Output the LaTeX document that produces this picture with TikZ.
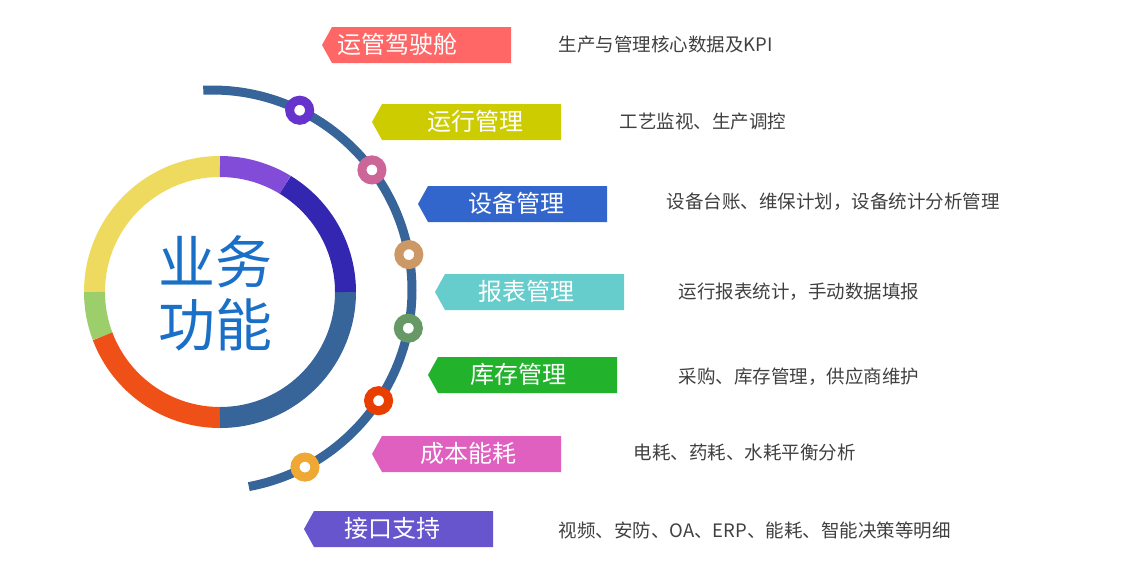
\documentclass[tikz,border=0pt]{standalone}
\usepackage{fontspec}
\setmainfont{Noto Sans CJK SC}
\definecolor{ringblue}{HTML}{376499}
\definecolor{ringyellow}{HTML}{EFDA60}
\definecolor{ringgreen}{HTML}{9CCE6C}
\definecolor{ringorange}{HTML}{EF5017}
\definecolor{ringindigo}{HTML}{3326B0}
\definecolor{ringpurple}{HTML}{834CD8}
\definecolor{titleblue}{HTML}{1A70C6}
\tikzset{
  tabtext/.style={text=white, font=\fontsize{24}{28}\selectfont},
  desc/.style={anchor=west, text=black!75, font=\fontsize{18.5}{22}\selectfont},
}
% tab: #1 left tip x, #2 top y, #3 colour, #4 text centre x, #5 name, #6 label
\newcommand*{\tabshape}[6]{
  \fill[#3] (#1, #2+18) -- (#1+10, #2) -- (#1+189, #2) -- (#1+189, #2+36)
    -- (#1+10, #2+36) -- cycle;
  \node[tabtext] (#5) at (#4, #2+17) {#6};
}
\begin{document}
\begin{tikzpicture}[x=1pt, y=-1pt]
    \useasboundingbox (0, 0) rectangle (1131, 582);
    \coordinate (c) at (220, 292);
    \coordinate (m) at (212, 290);
    % inner ring (angles negated, y runs downwards)
    \foreach \a/\b/\col in {-90/-180/ringyellow, -180/-200.7/ringgreen, -200.7/-270/ringorange,
        -270/-360/ringblue, 0/-58.7/ringindigo, -58.7/-90/ringpurple}
      \draw[\col, line width=21pt] ([shift={(\a:125.5)}]c) arc[start angle=\a, end angle=\b, radius=125.5];
    \node[text=titleblue, font=\fontsize{57}{63}\selectfont, align=center] (title) at (215, 293)
      {业务\\功能};
    % outer arc
    \draw[ringblue, line width=9pt] ([shift={(-92.5:200)}]m) arc[start angle=-92.5, end angle=79.4, radius=200];
    \foreach \a/\col [count=\k] in {-64/6633CC, -36.9/CC6699, -10.2/CC9966, 11/669966,
        33.6/E83E00, 62.3/EEA833}{
      \definecolor{dotcol}{HTML}{\col}
      \coordinate (dot\k) at ([shift={(\a:200)}]m);
      \draw[dotcol, line width=9pt, fill=white] (dot\k) circle[radius=10];
    }
    % tabs
    \definecolor{tabA}{HTML}{FF6666}
    \definecolor{tabB}{HTML}{CCCC00}
    \definecolor{tabC}{HTML}{3366CC}
    \definecolor{tabD}{HTML}{66CCCC}
    \definecolor{tabE}{HTML}{22B22B}
    \definecolor{tabF}{HTML}{E060C0}
    \definecolor{tabG}{HTML}{6655CC}
    \tabshape{322}{27}{tabA}{397}{cockpit}{运管驾驶舱}
    \tabshape{372}{104}{tabB}{475}{operate}{运行管理}
    \tabshape{418}{186}{tabC}{516}{device}{设备管理}
    \tabshape{435}{274}{tabD}{526}{report}{报表管理}
    \tabshape{428}{357}{tabE}{518}{stock}{库存管理}
    \tabshape{372}{436}{tabF}{468}{cost}{成本能耗}
    \tabshape{304}{511}{tabG}{392}{iface}{接口支持}
    % descriptions
    \node[desc] (dA) at (555, 44) {生产与管理核心数据及KPI};
    \node[desc] (dB) at (616, 122) {工艺监视、生产调控};
    \node[desc] (dC) at (663, 202) {设备台账、维保计划，设备统计分析管理};
    \node[desc] (dD) at (675, 292) {运行报表统计，手动数据填报};
    \node[desc] (dE) at (675, 377) {采购、库存管理，供应商维护};
    \node[desc] (dF) at (630, 452) {电耗、药耗、水耗平衡分析};
    \node[desc] (dG) at (555, 530) {视频、安防、OA、ERP、能耗、智能决策等明细};
\end{tikzpicture}
\end{document}
